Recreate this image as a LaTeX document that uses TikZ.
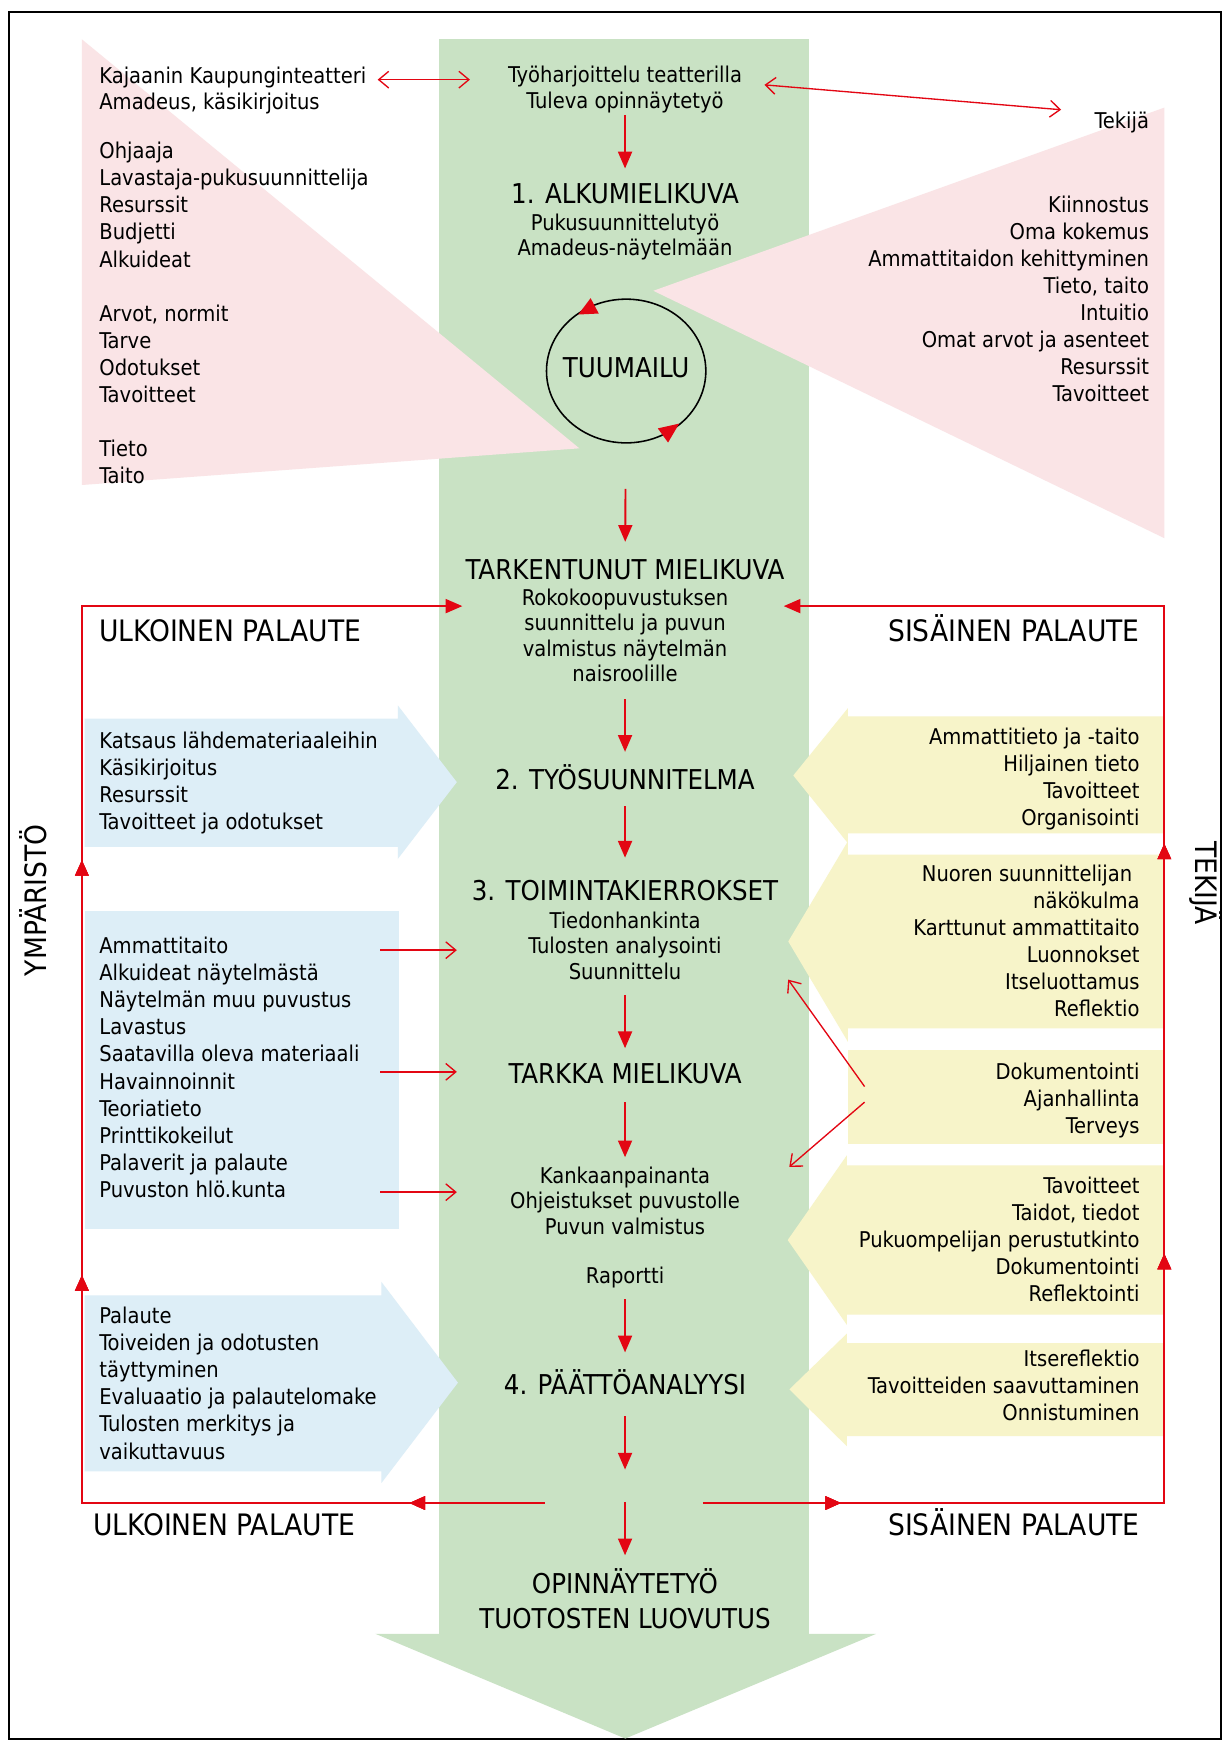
\documentclass[tikz,border=0pt]{standalone}
\usepackage{fontspec}
\IfFontExistsTF{DejaVu Sans Condensed}{\setmainfont{DejaVu Sans Condensed}}{\setmainfont{DejaVu Sans}[FakeStretch=0.9]}
\usetikzlibrary{arrows.meta,shapes.geometric,decorations.markings}
\definecolor{gfill}{HTML}{C9E2C4}
\definecolor{pfill}{HTML}{FAE4E6}
\definecolor{bfill}{HTML}{DDEEF7}
\definecolor{yfill}{HTML}{F7F4C9}
\definecolor{ared}{HTML}{E30613}
\newcommand{\dgBody}{\fontsize{19.5}{24.3}\selectfont}
\newcommand{\dgGreen}{\fontsize{19.5}{22.7}\selectfont}
\newcommand{\dgTitle}{\fontsize{24.5}{31}\selectfont}
\newcommand{\dgLabel}{\fontsize{26.5}{31}\selectfont}
\tikzset{
  bodytxt/.style={font=\dgBody, inner sep=0pt},
  greentxt/.style={font=\dgGreen, inner sep=0pt, align=center},
  oneline/.style={font=\dgBody, inner sep=0pt, text height=14.2pt, text depth=0pt},
  titletxt/.style={font=\dgTitle, inner sep=0pt, text height=18pt, text depth=0pt},
  labeltxt/.style={font=\dgLabel, inner sep=0pt, text height=19.3pt, text depth=0pt},
  flow/.style={draw=ared, line width=1.7pt, -{Triangle[length=15pt,width=12.5pt]}},
  loopline/.style={draw=ared, color=ared, line width=1.8pt, -{Triangle[length=15pt,width=12.5pt]}},
  thinarrow/.style={draw=ared, line width=1.2pt, -{Straight Barb[length=9pt,width=15pt]}},
  dthinarrow/.style={draw=ared, line width=1.2pt, {Straight Barb[length=9pt,width=15pt]}-{Straight Barb[length=9pt,width=15pt]}},
  midtip/.style={decoration={markings, mark=at position #1 with {\arrow{Triangle[length=14pt,width=12pt]}}}, postaction={decorate}}
}
\begin{document}
\begin{tikzpicture}[x=1pt,y=-1pt]
\useasboundingbox (0,0) rectangle (1103,1568);
\fill[white] (0,0) rectangle (1103,1568);
\draw[line width=2pt] (8,10.5) rectangle (1096,1561);

% green main column
\node[fill=gfill, inner sep=0pt, minimum width=332pt, minimum height=1432pt, anchor=north west] (gcol) at (394,35) {};
\fill[gfill] ([xshift=-57pt,yshift=1pt]gcol.south west) -- ([xshift=60pt,yshift=1pt]gcol.south east) -- ([xshift=1pt,yshift=-93pt]gcol.south) -- cycle;

% pink triangles
\fill[pfill] (73.5,35.3) -- (520,402.4) -- (73.5,435.3) -- cycle;
\fill[pfill] (1045,96.6) -- (586.4,261) -- (1045,483) -- cycle;

% blue shapes
\fill[bfill] (76,645) -- (357,645) -- (357,633) -- (410,702) -- (357,771) -- (357,760) -- (76,760) -- cycle;
\node[fill=bfill, inner sep=0pt, minimum width=282pt, minimum height=285.5pt, anchor=north west] (b2) at (76,817) {};
\fill[bfill] (76,1162.6) -- (342.4,1162.6) -- (342.4,1150.6) -- (411,1241) -- (342.4,1331) -- (342.4,1320.6) -- (76,1320.6) -- cycle;

% yellow shapes
\fill[yfill] (1044,643) -- (761,643) -- (761,635.6) -- (712,696) -- (761,756.8) -- (761,748) -- (1044,748) -- cycle;
\fill[yfill] (1044,767) -- (761,767) -- (761,755) -- (707.5,845) -- (761,935) -- (761,923) -- (1044,923) -- cycle;
\node[fill=yfill, inner sep=0pt, minimum width=283pt, minimum height=85pt, anchor=north west] (y3) at (761,942) {};
\fill[yfill] (1044,1046) -- (760,1046) -- (760,1037) -- (707,1113) -- (760,1189) -- (760,1180) -- (1044,1180) -- cycle;
\fill[yfill] (1044,1205.5) -- (760,1205.5) -- (760,1197) -- (708.5,1247) -- (760,1298) -- (760,1289) -- (1044,1289) -- cycle;

% left texts
\node[oneline, anchor=west] (kaj) at (89,67.5) {Kajaanin Kaupunginteatteri};
\node[oneline, anchor=west] (ama) at (89,91.5) {Amadeus, käsikirjoitus};
\node[bodytxt, align=left, anchor=west] (lblk) at (89,281) {Ohjaaja\\Lavastaja-pukusuunnittelija\\Resurssit\\Budjetti\\Alkuideat\\[24.3pt]Arvot, normit\\Tarve\\Odotukset\\Tavoitteet\\[24.3pt]Tieto\\Taito};

% right texts
\node[oneline, anchor=east] (tekija) at (1031.5,108) {Tekijä};
\node[bodytxt, align=right, anchor=east] (rblk) at (1031.5,268.4) {Kiinnostus\\Oma kokemus\\Ammattitaidon kehittyminen\\Tieto, taito\\Intuitio\\Omat arvot ja asenteet\\Resurssit\\Tavoitteet};

% blue texts
\node[bodytxt, align=left, anchor=west] (b1t) at (89,703) {Katsaus lähdemateriaaleihin\\Käsikirjoitus\\Resurssit\\Tavoitteet ja odotukset};
\node[bodytxt, align=left, anchor=west] (b2t) at (89,958) {Ammattitaito\\Alkuideat näytelmästä\\Näytelmän muu puvustus\\Lavastus\\Saatavilla oleva materiaali\\Havainnoinnit\\Teoriatieto\\Printtikokeilut\\Palaverit ja palaute\\Puvuston hlö.kunta};
\node[bodytxt, align=left, anchor=west] (b3t) at (89,1241.5) {Palaute\\Toiveiden ja odotusten\\täyttyminen\\Evaluaatio ja palautelomake\\Tulosten merkitys ja\\vaikuttavuus};

% yellow texts
\node[bodytxt, align=right, anchor=east] (y1t) at (1023,699.5) {Ammattitieto ja -taito\\Hiljainen tieto\\Tavoitteet\\Organisointi};
\node[bodytxt, align=right, anchor=east] (y2t) at (1023,844.5) {Nuoren suunnittelijan\hspace*{6.6pt}\\näkökulma\\Karttunut ammattitaito\\Luonnokset\\Itseluottamus\\Reflektio};
\node[bodytxt, align=right, anchor=east] (y3t) at (1023,987.5) {Dokumentointi\\Ajanhallinta\\Terveys};
\node[bodytxt, align=right, anchor=east] (y4t) at (1023,1112.3) {Tavoitteet\\Taidot, tiedot\\Pukuompelijan perustutkinto\\Dokumentointi\\Reflektointi};
\node[bodytxt, align=right, anchor=east] (y5t) at (1023,1243.7) {Itsereflektio\\Tavoitteiden saavuttaminen\\Onnistuminen};

% green column texts
\node[oneline] (top1) at (561,66.5) {Työharjoittelu teatterilla};
\node[oneline] (top2) at (561,90.2) {Tuleva opinnäytetyö};
\node[titletxt] (s1) at (561,174) {1. ALKUMIELIKUVA};
\node[greentxt] (s1sub) at (561,212.7) {Pukusuunnittelutyö\\Amadeus-näytelmään};
\node[ellipse, draw=black, line width=1.4pt, inner sep=0pt, minimum width=143pt, minimum height=129pt] (tuum) at (562,333) {};
\node[titletxt] (tuumt) at (562,330) {TUUMAILU};
\node[titletxt] (tark) at (561,511) {TARKENTUNUT MIELIKUVA};
\node[greentxt] (tarksub) at (561,570.2) {Rokokoopuvustuksen\\suunnittelu ja puvun\\valmistus näytelmän\\naisroolille};
\node[titletxt] (tyo) at (561,700) {2. TYÖSUUNNITELMA};
\node[titletxt] (toim) at (561,799.5) {3. TOIMINTAKIERROKSET};
\node[greentxt] (toimsub) at (561,848.8) {Tiedonhankinta\\Tulosten analysointi\\Suunnittelu};
\node[titletxt] (tarkka) at (561,963.5) {TARKKA MIELIKUVA};
\node[greentxt] (kank) at (561,1077.8) {Kankaanpainanta\\Ohjeistukset puvustolle\\Puvun valmistus};
\node[oneline] (rap) at (561,1145) {Raportti};
\node[titletxt] (paatto) at (561,1243) {4. PÄÄTTÖANALYYSI};
\node[font=\dgTitle, inner sep=0pt, align=center] (endt) at (561,1435) {OPINNÄYTETYÖ\\TUOTOSTEN LUOVUTUS};
\coordinate (split1) at (561,1319);
\coordinate (split2) at (561,1348);

% circle arrowheads
\fill[ared] (519,282.3) -- (537.4,281.4) -- (530.1,267.6) -- cycle;
\fill[ared] (609.6,380.2) -- (599.6,397.2) -- (590.4,384.5) -- cycle;

% flow arrows
\draw[flow, shorten <=5.7pt, shorten >=13.6pt] (top2) -- (s1);
\draw[flow, shorten <=40.5pt, shorten >=15.5pt] (tuum) -- (tark);
\draw[flow, shorten <=15.4pt, shorten >=16pt] (tarksub) -- (tyo);
\draw[flow, shorten <=14.6pt, shorten >=20.5pt] (tyo) -- (toim);
\draw[flow, shorten <=13.7pt, shorten >=13.5pt] (toimsub) -- (tarkka);
\draw[flow, shorten <=16.5pt, shorten >=8.7pt] (tarkka) -- (kank);
\draw[flow, shorten <=13.9pt, shorten >=20pt] (rap) -- (paatto);
\draw[flow, shorten <=19pt] (paatto) -- (split1);
\draw[flow, shorten >=12pt] (split2) -- (endt);

% top double arrows
\draw[dthinarrow, shorten <=10pt, shorten >=34pt] ([yshift=-4pt]kaj.east) -- ([yshift=-4pt]kaj.east -| top1.west);
\draw[dthinarrow, shorten <=20pt, shorten >=30pt] ([yshift=-8pt]top1.east) -- ([yshift=7pt]tekija.west);

% blue -> green thin arrows
\draw[thinarrow] ([xshift=-17.3pt,yshift=-4pt]b2.east |- toimsub.center) -- ([xshift=16pt,yshift=-4pt]gcol.west |- toimsub.center);
\draw[thinarrow] ([xshift=-17.3pt,yshift=1.5pt]b2.east |- tarkka.center) -- ([xshift=16pt,yshift=1.5pt]gcol.west |- tarkka.center);
\draw[thinarrow] ([xshift=-17.3pt,yshift=7.8pt]b2.east |- kank.center) -- ([xshift=16pt,yshift=7.8pt]gcol.west |- kank.center);

% yellow -> green thin arrows
\draw[thinarrow] ([xshift=15pt,yshift=9.5pt]y3.west) -- ([xshift=-19pt]gcol.east |- toimsub.south);
\draw[thinarrow] ([xshift=15pt,yshift=-4.5pt]y3.west) -- ([xshift=-18pt]gcol.east |- kank.north);

% feedback loops
\coordinate (lstart) at (489,1349);
\coordinate (lbot) at (73.5,1349);
\coordinate (ltop) at (73.5,544);
\coordinate (rstart) at (630.8,1349);
\coordinate (rbot) at (1045,1349);
\coordinate (rtop) at (1045,544);
\draw[loopline, midtip=121.5pt, midtip=620pt, midtip=992.5pt] (lstart) -- (lbot) -- (ltop) -- ([xshift=21pt]ltop -| gcol.west);
\draw[loopline, midtip=124pt, midtip=638pt, midtip=1006pt] (rstart) -- (rbot) -- (rtop) -- ([xshift=-23pt]rtop -| gcol.east);

% labels
\node[labeltxt, anchor=west] (ulk1) at (88.7,566) {ULKOINEN PALAUTE};
\node[labeltxt, anchor=east] (sis1) at (1023,566) {SISÄINEN PALAUTE};
\node[labeltxt, anchor=west] (ulk2) at (83.3,1368.6) {ULKOINEN PALAUTE};
\node[labeltxt, anchor=east] (sis2) at (1023,1368.6) {SISÄINEN PALAUTE};
\node[labeltxt, rotate=90] (ymp) at (32,808) {YMPÄRISTÖ};
\node[labeltxt, rotate=-90] (tek) at (1083,792.5) {TEKIJÄ};
\end{tikzpicture}
\end{document}
